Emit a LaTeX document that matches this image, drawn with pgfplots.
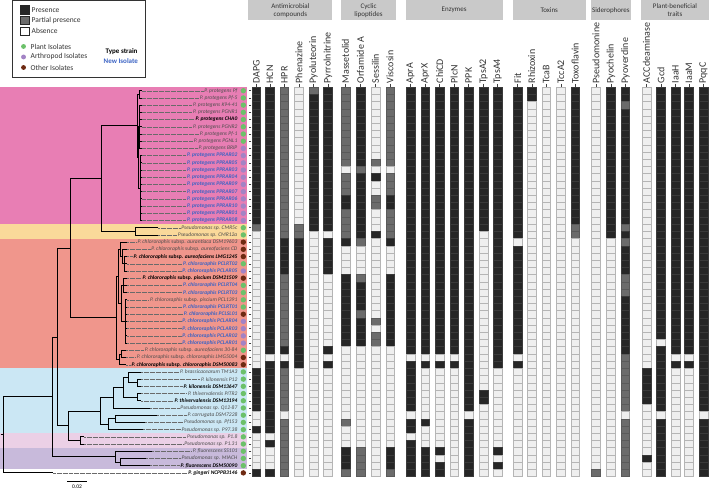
\documentclass[border=0pt]{standalone}
\usepackage{pgfplots}
\pgfplotsset{compat=1.18}
\usepackage{pgfplotstable}
\usepackage{fontspec}
\setmainfont{Carlito}
\definecolor{pinkC}{HTML}{E87EB4}
\definecolor{yelC}{HTML}{FAD99A}
\definecolor{salC}{HTML}{F0968C}
\definecolor{bluC}{HTML}{CBE7F4}
\definecolor{lpkC}{HTML}{EBD0E6}
\definecolor{lavC}{HTML}{C8BADB}
\definecolor{hdrC}{HTML}{C9C9C9}
\definecolor{isoG}{HTML}{6CC16A}
\definecolor{isoA}{HTML}{A383C5}
\definecolor{isoO}{HTML}{6E2A12}
\definecolor{newB}{HTML}{3B63C4}
\definecolor{labG}{HTML}{4D4D4D}
\definecolor{cY}{HTML}{262626}
\definecolor{cYd}{HTML}{3A3A3A}
\definecolor{cP}{HTML}{6B6B6B}
\definecolor{cPd}{HTML}{5A5A5A}
\definecolor{cN}{HTML}{EFEFEF}
\definecolor{cNd}{HTML}{B5B5B5}
\definecolor{leadC}{HTML}{6A6A6A}
\definecolor{txtC}{HTML}{333333}
\pgfdeclareplotmark{cell}{\pgfpathrectangle{\pgfqpoint{-4.3pt}{-3.6pt}}{\pgfqpoint{8.6pt}{7.2pt}}\pgfusepathqfillstroke}
\pgfdeclareplotmark{lsq}{\pgfpathrectangle{\pgfqpoint{-4.2pt}{-4.2pt}}{\pgfqpoint{8.4pt}{8.4pt}}\pgfusepathqfillstroke}
\pgfdeclareplotmark{dot}{\pgfpathcircle{\pgfpointorigin}{2.7pt}\pgfusepathqfill}
\newcommand\lf{\fontsize{5.5}{6}\selectfont}
\tikzset{
  labn/.style={anchor=east, inner xsep=0.8pt, inner ysep=0.2pt, font=\lf\itshape},
  nl/.style={text=labG},
  ts/.style={text=black, font=\lf\bfseries\itshape},
  ni/.style={text=newB, font=\lf\bfseries\itshape},
  collab/.style={rotate=90, anchor=west, inner sep=0pt, text=txtC, font=\fontsize{10}{11}\selectfont},
  hdr/.style={align=center, text=txtC, font=\fontsize{7}{8}\selectfont, inner sep=0pt},
  legt/.style={anchor=west, inner sep=0pt, text=txtC, font=\fontsize{7.5}{9}\selectfont},
}
\pgfplotsset{
  cellplot/.style={only marks, scatter, scatter src=explicit symbolic, mark=cell,
    scatter/classes={Y={mark=cell,draw=cYd,fill=cY,line width=0.45pt},
                     P={mark=cell,draw=cPd,fill=cP,line width=0.45pt},
                     N={mark=cell,draw=cNd,fill=cN,line width=0.45pt}}},
}
\newcommand\RY{91.7+7.2*(\thisrow{r}-1)}
\newcommand\lab[4]{\node[labn,fill=#2,#3] at (axis cs:238,{91.7+7.2*(#1-1)}) {#4};}
\newcommand\col[2]{\addplot[cellplot] table[x expr=#1, y expr=\RY, meta=#2] \heat;}

\pgfplotstableread{
r iso tip DAPG HCN HPR Phe Pyl Pyr Mas Orf Ses Vis AprA AprX Chi Plc PPK TAa TAb Fit Rhi TcaB TccA Tox Psm Pch Pvd ACC Gcd IaaH IaaM PqqC
1 g 141.5 Y Y P N P Y P Y N P Y Y Y Y Y Y Y Y Y N N Y N Y Y N Y Y Y Y
2 g 141.5 Y Y P N Y Y P Y N P Y Y Y Y Y Y Y Y Y N N Y N Y Y N Y Y Y Y
3 g 141.5 Y Y P N Y Y P Y N P Y Y Y Y Y Y Y Y N N N Y N Y P N Y Y Y Y
4 g 141.5 Y Y P N Y Y P Y N P Y Y Y Y Y Y Y Y N N N Y N Y Y N Y Y Y Y
5 g 141.5 Y Y P N Y Y P Y N P Y Y Y Y Y Y Y Y N N N Y N Y Y N Y Y Y Y
6 g 141.5 Y Y P N Y Y P Y N P Y Y Y Y Y Y Y Y N N N Y N Y Y N Y Y Y Y
7 g 141.5 Y Y P N Y Y P Y N P Y Y Y Y Y Y Y Y N N N Y N Y Y N Y Y Y Y
8 g 141.5 Y Y P N Y Y P Y N P Y Y Y Y Y Y Y Y N N N Y N Y Y N Y Y Y Y
9 a 141.5 Y Y P N Y Y P Y N P Y Y Y Y Y Y Y Y N N N Y N Y Y N Y Y Y Y
10 a 141.5 Y Y P N Y Y P Y N P Y Y Y Y Y Y Y Y N N N Y N Y Y N Y Y Y Y
11 a 141.5 Y Y P N Y Y P Y P P Y Y Y Y Y Y Y Y N N N Y N Y Y N Y Y Y Y
12 a 141.5 Y Y P N Y Y N P N N Y Y Y Y Y Y Y Y N N N Y N Y Y N Y Y Y Y
13 a 141.5 Y Y P N Y Y P Y Y P Y Y Y Y Y Y Y Y N N N Y N Y Y N Y Y Y Y
14 a 141.5 Y Y P N Y Y P Y N P Y Y Y Y Y Y Y Y N N N Y N Y Y N Y Y Y Y
15 a 141.5 Y Y P N Y Y P Y N P Y Y Y Y Y Y Y Y N N N Y N Y Y N Y Y Y Y
16 a 141.5 Y Y P N Y Y Y Y P Y Y Y Y Y Y Y Y Y N N N Y N Y Y N Y Y Y Y
17 a 141.5 Y Y P N Y Y Y Y P Y Y Y Y Y Y Y Y Y N N N Y N Y Y N Y Y Y Y
18 a 141.5 Y Y P N Y Y P Y N P Y Y Y Y Y Y Y Y N N N Y N Y Y N Y Y Y Y
19 a 141.5 Y Y P N Y Y P Y N P Y Y Y Y Y Y Y Y N N N Y N Y Y N Y Y Y Y
20 g 158 P Y P P Y Y P Y N P Y Y Y Y Y Y Y Y N N N P N Y P N Y Y Y Y
21 g 158 N Y P P N N P Y Y P Y Y Y Y Y N Y Y N N N P N Y Y N Y Y Y Y
22 o 127 N Y Y Y N Y Y P N Y Y Y Y Y Y N Y N N N N N N N P N Y Y Y Y
23 o 127 N Y Y Y N Y N N N N Y Y Y Y Y N Y Y N N N N N N Y N Y Y Y Y
24 o 127 N Y Y Y N Y N N N N Y Y Y Y Y N Y Y N N N N N N Y N Y Y Y Y
25 g 127 N Y Y Y N Y N N N N Y Y Y Y Y N Y Y N N N N N N Y N Y Y Y Y
26 a 127 N Y Y Y N Y N N N N Y Y Y Y Y N Y Y N N N N N N Y N Y Y Y Y
27 o 127 N Y P Y N N Y P N Y Y Y Y Y Y N Y Y N N N N N N P N Y Y Y Y
28 g 127 N Y P Y N N Y Y N Y Y Y Y Y Y N Y Y N N N N N N P N Y Y Y Y
29 g 127 N Y P Y N N Y Y N Y Y Y Y Y Y N Y Y N N N N N N P N Y Y Y Y
30 g 127 N Y P Y N N Y Y N Y Y Y Y Y Y N Y Y N N N N N N Y N Y Y Y Y
31 g 127 N Y P Y N N Y Y N Y Y Y Y Y Y N Y Y N N N N N N Y N Y Y Y Y
32 o 127 N Y P Y N N Y P N Y Y Y Y Y Y N Y Y N N N N N N Y N Y Y Y Y
33 a 127 N Y P Y N N Y Y P Y Y Y Y Y Y N Y Y N N N N N N Y N Y Y Y Y
34 a 127 N Y P Y N N Y Y N Y Y Y Y Y Y N Y Y N N N N N N Y N Y Y Y Y
35 a 127 N Y P Y N N Y Y P Y Y Y Y Y Y N Y Y N N N N N N Y N Y Y Y Y
36 a 127 N Y P Y N N Y Y P Y Y Y Y Y Y N Y Y N N N N N N Y N N Y Y Y
37 g 126 N Y Y Y N Y N N N N Y Y Y Y Y N Y Y N N N N N N Y N Y Y Y Y
38 o 126 N N N Y N N N N N N N N N N Y N Y N N N N N N N P N Y N N Y
39 o 126 N Y Y Y N Y N N N N Y Y Y Y Y N Y Y N N N N N N P N Y Y Y Y
40 g 141 Y Y P N N N N N N N Y N N N Y N N N N N N N N N P Y Y N N Y
41 g 141 Y Y P N N N N N N N Y N N N Y N N N N N N N N N P Y Y N N Y
42 g 141 Y Y P N N N N N N N Y N N N Y N N N N N N N N N P Y Y N N Y
43 g 141 Y Y P N N N N N N N Y N N N Y Y N N N N N N N N P Y Y N N Y
44 g 141 Y Y P N N N N N N N Y N N N Y Y N N N N N N N N P Y Y N N Y
45 g 150 Y Y P N N N N N N N Y N N N Y N N N N N N N N N P N Y N N Y
46 g 157 N Y N N N N N N N N N N N N N N N N N N N N N N N N N N N N
47 g 145 N Y P N N N P N N N Y Y N N Y N N N N N N N N N P N Y N N Y
48 g 143 Y Y P N N N N N N N Y N N N Y N N N N N N N N N P N Y N N Y
49 g 84 N N P N N N N N N N N N N N Y N N N N N N N N N P N Y N N Y
50 g 84 N Y P N N N N N N N Y N N N Y N N N N N N N N N P N Y N N Y
51 g 152 N N P N N N Y P N Y Y Y Y N Y N Y N N N N N N N P N Y N N Y
52 g 146 N N P N N N Y P N Y Y Y N N Y N N N N N N N N N P Y Y N N Y
53 g 150 N N P N N N Y P N Y Y Y Y N Y N Y N N N N N N N P N Y N N Y
54 o 53 Y Y P N N N P P N P Y Y Y N Y N N N N N N N P N P N Y N N Y
}\heat

\begin{document}
\begin{tikzpicture}
\begin{axis}[scale only axis, width=709pt, height=490pt,
  xmin=0, xmax=709, ymin=0, ymax=490, y dir=reverse,
  hide axis, clip=false, unbounded coords=jump]

% clade backgrounds
\addplot[fill=pinkC, draw=none] coordinates {(0,88.1) (247,88.1) (247,224.9) (0,224.9)};
\addplot[fill=yelC, draw=none] coordinates {(0,224.9) (247,224.9) (247,239.3) (0,239.3)};
\addplot[fill=salC, draw=none] coordinates {(0,239.3) (247,239.3) (247,368.9) (0,368.9)};
\addplot[fill=bluC, draw=none] coordinates {(0,368.9) (247,368.9) (247,433.7) (0,433.7)};
\addplot[fill=lpkC, draw=none] coordinates {(0,433.7) (247,433.7) (247,448.1) (0,448.1)};
\addplot[fill=lavC, draw=none] coordinates {(0,448.1) (247,448.1) (247,469.7) (0,469.7)};

% tree
\addplot[black, line width=0.8pt] coordinates {
(0.5,435)(3,435)(nan,nan)
(52,397.4)(3,397.4)(3,473.3)(53,473.3)(nan,nan)
(57,337.6)(52,337.6)(52,457.1)(115,457.1)(nan,nan)
(70,249)(57,249)(57,426.2)(68,426.2)(nan,nan)
(101,179.5)(70,179.5)(70,318.5)(116,318.5)(nan,nan)
(137.5,126.8)(101,126.8)(101,232.1)(135,232.1)(nan,nan)
(139,95.3)(137.5,95.3)(137.5,158.3)(138.5,158.3)(nan,nan)
(141.5,91.7)(139,91.7)(139,98.9)(141.5,98.9)(nan,nan)
(139,127.7)(138.5,127.7)(138.5,188.9)(140,188.9)(nan,nan)
(141.5,106.1)(139,106.1)(139,149.3)(141.5,149.3)(nan,nan)
(139,113.3)(141.5,113.3)(nan,nan)(139,120.5)(141.5,120.5)(nan,nan)(139,127.7)(141.5,127.7)(nan,nan)
(139,134.9)(141.5,134.9)(nan,nan)(139,142.1)(141.5,142.1)(nan,nan)
(141.5,156.5)(140,156.5)(140,221.3)(141.5,221.3)(nan,nan)
(140,163.7)(141.5,163.7)(nan,nan)(140,170.9)(141.5,170.9)(nan,nan)(140,178.1)(141.5,178.1)(nan,nan)
(140,185.3)(141.5,185.3)(nan,nan)(140,192.5)(141.5,192.5)(nan,nan)(140,199.7)(141.5,199.7)(nan,nan)
(140,206.9)(141.5,206.9)(nan,nan)(140,214.1)(141.5,214.1)(nan,nan)
(158,228.5)(135,228.5)(135,235.7)(158,235.7)(nan,nan)
(118,277.1)(116,277.1)(116,359.9)(119,359.9)(nan,nan)
(120,250.1)(118,250.1)(118,304.1)(121,304.1)(nan,nan)
(127,242.9)(120,242.9)(120,257.3)(122,257.3)(nan,nan)
(127,250.1)(122,250.1)(122,264.5)(124,264.5)(nan,nan)
(127,257.3)(124,257.3)(124,271.7)(127,271.7)(nan,nan)(124,264.5)(127,264.5)(nan,nan)
(123,286.1)(121,286.1)(121,322.1)(125,322.1)(nan,nan)
(127,278.9)(123,278.9)(123,293.3)(127,293.3)(nan,nan)(123,286.1)(127,286.1)(nan,nan)
(127,300.5)(125,300.5)(125,343.7)(127,343.7)(nan,nan)
(125,307.7)(127,307.7)(nan,nan)(125,314.9)(127,314.9)(nan,nan)(125,322.1)(127,322.1)(nan,nan)
(125,329.3)(127,329.3)(nan,nan)(125,336.5)(127,336.5)(nan,nan)
(121,354.5)(119,354.5)(119,365.3)(126,365.3)(nan,nan)
(126,350.9)(121,350.9)(121,358.1)(126,358.1)(nan,nan)
(100,411.5)(68,411.5)(68,440.9)(80,440.9)(nan,nan)
(113,398.2)(100,398.2)(100,424.7)(108,424.7)(nan,nan)
(123,387.8)(113,387.8)(113,408.5)(150,408.5)(nan,nan)
(128,377.9)(123,377.9)(123,397.7)(137,397.7)(nan,nan)
(141,372.5)(128,372.5)(128,383.3)(137,383.3)(nan,nan)
(141,379.7)(137,379.7)(137,386.9)(141,386.9)(nan,nan)
(141,394.1)(137,394.1)(137,401.3)(141,401.3)(nan,nan)
(115,419.3)(108,419.3)(108,430.1)(143,430.1)(nan,nan)
(157,415.7)(115,415.7)(115,422.9)(145,422.9)(nan,nan)
(84,437.3)(80,437.3)(80,444.5)(84,444.5)(nan,nan)
(152,451.7)(115,451.7)(115,462.5)(120,462.5)(nan,nan)
(146,458.9)(120,458.9)(120,466.1)(150,466.1)
};
% scale bar
\addplot[black, line width=0.8pt] coordinates {(67,482) (87,482)};
\node[font=\fontsize{5.5}{6}\selectfont, inner sep=0pt] at (axis cs:77,487.3) {0.02};

% dotted leaders
\addplot[draw=none, error bars/.cd, x dir=plus, x explicit, error mark=none,
  error bar style={draw=leadC, line width=0.4pt, dash pattern=on 0.4pt off 0.8pt}]
  table[x=tip, y expr=\RY, x error expr=237-\thisrow{tip}] \heat;

% strain labels
\lab{1}{pinkC}{nl}{P. protegens Pf}
\lab{2}{pinkC}{nl}{P. protegens Pf-5}
\lab{3}{pinkC}{nl}{P. protegens K94-41}
\lab{4}{pinkC}{nl}{P. protegens PGNR1}
\lab{5}{pinkC}{ts}{P. protegens CHA0}
\lab{6}{pinkC}{nl}{P. protegens PGNR2}
\lab{7}{pinkC}{nl}{P. protegens Pf-1}
\lab{8}{pinkC}{nl}{P. protegens PGNL1}
\lab{9}{pinkC}{nl}{P. protegens BRIP}
\lab{10}{pinkC}{ni}{P. protegens PPRAR02}
\lab{11}{pinkC}{ni}{P. protegens PPRAR05}
\lab{12}{pinkC}{ni}{P. protegens PPRAR03}
\lab{13}{pinkC}{ni}{P. protegens PPRAR04}
\lab{14}{pinkC}{ni}{P. protegens PPRAR09}
\lab{15}{pinkC}{ni}{P. protegens PPRAR07}
\lab{16}{pinkC}{ni}{P. protegens PPRAR06}
\lab{17}{pinkC}{ni}{P. protegens PPRAR10}
\lab{18}{pinkC}{ni}{P. protegens PPRAR01}
\lab{19}{pinkC}{ni}{P. protegens PPRAR08}
\lab{20}{yelC}{nl}{Pseudomonas sp. CMR5c}
\lab{21}{yelC}{nl}{Pseudomonas sp. CMR12a}
\lab{22}{salC}{nl}{P. chlororaphis \textup{subsp.} aurantiaca DSM19603}
\lab{23}{salC}{nl}{P. chlororaphis \textup{subsp.} aureofaciens CD}
\lab{24}{salC}{ts}{P. chlororaphis \textup{subsp.} aureofaciens LMG1245}
\lab{25}{salC}{ni}{P. chlororaphis PCLRT02}
\lab{26}{salC}{ni}{P. chlororaphis PCLAR05}
\lab{27}{salC}{ts}{P. chlororaphis \textup{subsp.} piscium DSM21509}
\lab{28}{salC}{ni}{P. chlororaphis PCLRT04}
\lab{29}{salC}{ni}{P. chlororaphis PCLRT03}
\lab{30}{salC}{nl}{P. chlororaphis \textup{subsp.} piscium PCL1391}
\lab{31}{salC}{ni}{P. chlororaphis PCLRT01}
\lab{32}{salC}{ni}{P. chlororaphis PCLSL01}
\lab{33}{salC}{ni}{P. chlororaphis PCLAR04}
\lab{34}{salC}{ni}{P. chlororaphis PCLAR03}
\lab{35}{salC}{ni}{P. chlororaphis PCLAR02}
\lab{36}{salC}{ni}{P. chlororaphis PCLAR01}
\lab{37}{salC}{nl}{P. chlororaphis \textup{subsp.} aureofaciens 30-84}
\lab{38}{salC}{nl}{P. chlororaphis \textup{subsp.} chlororaphis LMG5004}
\lab{39}{salC}{ts}{P. chlororaphis \textup{subsp.} chlororaphis DSM50083}
\lab{40}{bluC}{nl}{P. brassicacearum TM1A3}
\lab{41}{bluC}{nl}{P. kilonensis P12}
\lab{42}{bluC}{ts}{P. kilonensis DSM13647}
\lab{43}{bluC}{nl}{P. thivervalensis PITR2}
\lab{44}{bluC}{ts}{P. thivervalensis DSM13194}
\lab{45}{bluC}{nl}{Pseudomonas sp. Q12-87}
\lab{46}{bluC}{nl}{P. corrugata DSM7228}
\lab{47}{bluC}{nl}{Pseudomonas sp. Pf153}
\lab{48}{bluC}{nl}{Pseudomonas sp. P97.38}
\lab{49}{lpkC}{nl}{Pseudomonas sp. P1.8}
\lab{50}{lpkC}{nl}{Pseudomonas sp. P1.31}
\lab{51}{lavC}{nl}{P. fluorescens SS101}
\lab{52}{lavC}{nl}{Pseudomonas sp. MIACH}
\lab{53}{lavC}{ts}{P. fluorescens DSM50090}
\lab{54}{white}{ts}{P. gingeri NCPPB3146}

% isolate dots
\addplot[only marks, scatter, scatter src=explicit symbolic,
  scatter/classes={g={mark=dot,draw=isoG,fill=isoG}, a={mark=dot,draw=isoA,fill=isoA}, o={mark=dot,draw=isoO,fill=isoO}}]
  table[x expr=243, y expr=\RY, meta=iso] \heat;
% row ticks
\addplot[only marks, mark=-, mark size=1.4pt, mark options={draw=black!75, line width=0.5pt}]
  table[x expr=249.6, y expr=\RY] \heat;

% heatmap columns
\col{256}{DAPG}\col{269.5}{HCN}\col{284}{HPR}\col{298.5}{Phe}\col{313}{Pyl}\col{327.5}{Pyr}
\col{345}{Mas}\col{360}{Orf}\col{375}{Ses}\col{389.5}{Vis}
\col{410}{AprA}\col{424.5}{AprX}\col{439}{Chi}\col{453.5}{Plc}\col{468}{PPK}\col{483}{TAa}\col{497}{TAb}
\col{517}{Fit}\col{531}{Rhi}\col{545.5}{TcaB}\col{560}{TccA}\col{574.5}{Tox}
\col{595}{Psm}\col{610}{Pch}\col{624.5}{Pvd}
\col{645.5}{ACC}\col{660}{Gcd}\col{674.5}{IaaH}\col{688}{IaaM}\col{702.5}{PqqC}

% column ticks
\addplot[only marks, mark=|, mark size=1.5pt, mark options={draw=black!75, line width=0.5pt}] coordinates {
(256,86.3)(269.5,86.3)(284,86.3)(298.5,86.3)(313,86.3)(327.5,86.3)(345,86.3)(360,86.3)(375,86.3)(389.5,86.3)
(410,86.3)(424.5,86.3)(439,86.3)(453.5,86.3)(468,86.3)(483,86.3)(497,86.3)(517,86.3)(531,86.3)(545.5,86.3)
(560,86.3)(574.5,86.3)(595,86.3)(610,86.3)(624.5,86.3)(645.5,86.3)(660,86.3)(674.5,86.3)(688,86.3)(702.5,86.3)};
% column labels
\node[collab] at (axis cs:256,84.5) {DAPG};
\node[collab] at (axis cs:269.5,84.5) {HCN};
\node[collab] at (axis cs:284,84.5) {HPR};
\node[collab] at (axis cs:298.5,84.5) {Phenazine};
\node[collab] at (axis cs:313,84.5) {Pyoluteorin};
\node[collab] at (axis cs:327.5,84.5) {Pyrrolnitrine};
\node[collab] at (axis cs:345,84.5) {Massetolid};
\node[collab] at (axis cs:360,84.5) {Orfamide A};
\node[collab] at (axis cs:375,84.5) {Sessilin};
\node[collab] at (axis cs:389.5,84.5) {Viscosin};
\node[collab] at (axis cs:410,84.5) {AprA};
\node[collab] at (axis cs:424.5,84.5) {AprX};
\node[collab] at (axis cs:439,84.5) {ChiCD};
\node[collab] at (axis cs:453.5,84.5) {PlcN};
\node[collab] at (axis cs:468,84.5) {PPK};
\node[collab] at (axis cs:483,84.5) {TpsA2};
\node[collab] at (axis cs:497,84.5) {TpsA4};
\node[collab] at (axis cs:517,84.5) {Fit};
\node[collab] at (axis cs:531,84.5) {Rhizoxin};
\node[collab] at (axis cs:545.5,84.5) {TcaB};
\node[collab] at (axis cs:560,84.5) {TccA2};
\node[collab] at (axis cs:574.5,84.5) {Toxoflavin};
\node[collab] at (axis cs:595,84.5) {Pseudomonine};
\node[collab] at (axis cs:610,84.5) {Pyochelin};
\node[collab] at (axis cs:624.5,84.5) {Pyoverdine};
\node[collab] at (axis cs:645.5,84.5) {ACCdeaminase};
\node[collab] at (axis cs:660,84.5) {Gcd};
\node[collab] at (axis cs:674.5,84.5) {IaaH};
\node[collab] at (axis cs:688,84.5) {IaaM};
\node[collab] at (axis cs:702.5,84.5) {PqqC};

% group headers
\addplot[fill=hdrC, draw=none] coordinates {(248,1.5) (332,1.5) (332,21) (248,21)};
\addplot[fill=hdrC, draw=none] coordinates {(341,1.5) (395,1.5) (395,21) (341,21)};
\addplot[fill=hdrC, draw=none] coordinates {(405,1.5) (502,1.5) (502,21) (405,21)};
\addplot[fill=hdrC, draw=none] coordinates {(512,1.5) (585,1.5) (585,21) (512,21)};
\addplot[fill=hdrC, draw=none] coordinates {(590,1.5) (630,1.5) (630,21) (590,21)};
\addplot[fill=hdrC, draw=none] coordinates {(640,1.5) (708,1.5) (708,21) (640,21)};
\node[hdr] at (axis cs:290,11.3) {Antimicrobial\\compounds};
\node[hdr] at (axis cs:368,11.3) {Cyclic\\lipoptides};
\node[hdr] at (axis cs:453.5,11.3) {Enzymes};
\node[hdr] at (axis cs:548.5,11.3) {Toxins};
\node[hdr] at (axis cs:610,11.3) {Siderophores};
\node[hdr] at (axis cs:674,11.3) {Plant-beneficial\\traits};

% legend
\addplot[draw=black!80, line width=0.8pt, fill=white] coordinates {(12,1.5) (145,1.5) (145,78) (12,78) (12,1.5)};
\addplot[only marks, mark=lsq, mark options={draw=black!85, fill=cY, line width=0.6pt}] coordinates {(24.7,10.8)};
\addplot[only marks, mark=lsq, mark options={draw=black!85, fill=cP, line width=0.6pt}] coordinates {(24.7,21.5)};
\addplot[only marks, mark=lsq, mark options={draw=black!85, fill=white, line width=0.6pt}] coordinates {(24.7,32.3)};
\addplot[only marks, mark=dot, mark options={draw=isoG, fill=isoG, scale=0.9}] coordinates {(23.5,47.5)};
\addplot[only marks, mark=dot, mark options={draw=isoA, fill=isoA, scale=0.9}] coordinates {(23.5,58)};
\addplot[only marks, mark=dot, mark options={draw=isoO, fill=isoO, scale=0.9}] coordinates {(23.5,68.5)};
\node[legt] at (axis cs:31.5,10.8) {Presence};
\node[legt] at (axis cs:31.5,21.5) {Partial presence};
\node[legt] at (axis cs:31.5,32.3) {Absence};
\node[legt] at (axis cs:30.5,47.5) {Plant Isolates};
\node[legt] at (axis cs:30.5,58) {Arthropod Isolates};
\node[legt] at (axis cs:30.5,68.5) {Other Isolates};
\node[anchor=east, inner sep=0pt, font=\fontsize{7}{8}\selectfont\bfseries] at (axis cs:137.5,53) {Type strain};
\node[anchor=east, inner sep=0pt, text=newB, font=\fontsize{7}{8}\selectfont\bfseries] at (axis cs:138,62.5) {New Isolate};
\end{axis}
\end{tikzpicture}
\end{document}
